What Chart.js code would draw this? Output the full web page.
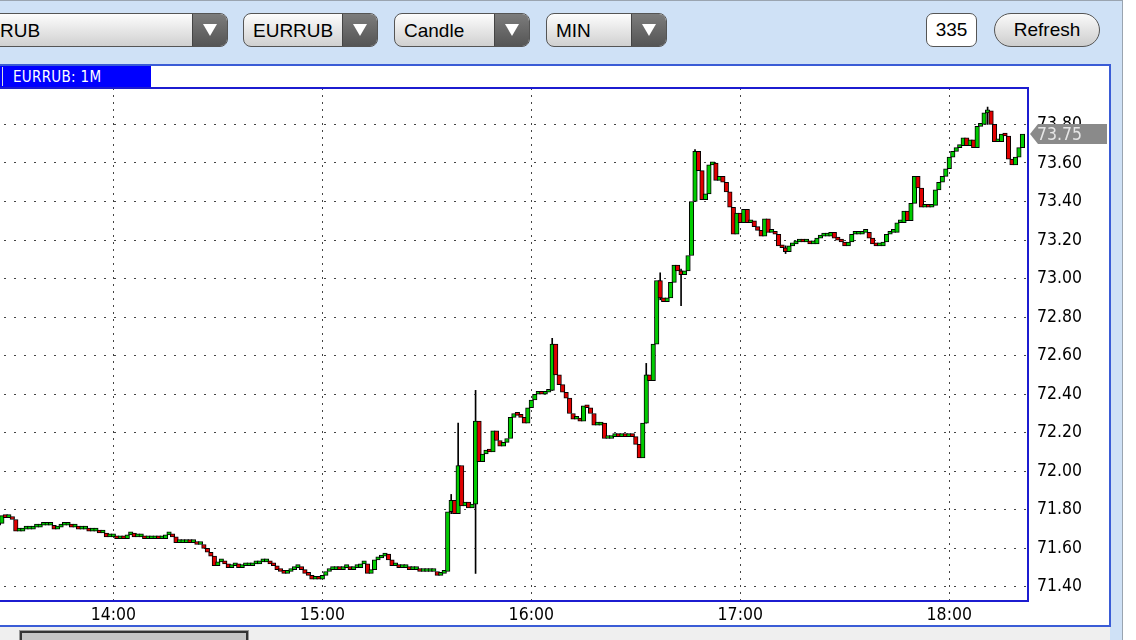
<!DOCTYPE html>
<html>
<head>
<meta charset="utf-8">
<script src="https://cdn.jsdelivr.net/npm/chart.js@4.4.0/dist/chart.umd.min.js"></script>
<style>
  html, body { margin: 0; padding: 0; }
  body {
    width: 1136px; height: 640px; overflow: hidden; position: relative;
    background: #cfe1f6; font-family: 'Liberation Sans', Arial, sans-serif;
  }
  .linea-sup { position: absolute; left: 0; top: 0; width: 1136px; height: 1px; background: #9aa4b0; }
  .sel {
    position: absolute; top: 13px; height: 34px; box-sizing: border-box;
    border: 1.5px solid #555; border-radius: 8px; overflow: hidden;
    background: linear-gradient(#fdfdfd, #d0d0d0);
  }
  .sel span { position: absolute; top: 6px; font-size: 19px; color: #000; }
  .sel .flecha {
    position: absolute; right: 0; top: 0; bottom: 0; width: 34px;
    background: linear-gradient(#7c7c7c, #555); border-left: 1px solid #444;
  }
  .sel .flecha:after {
    content: ''; position: absolute; left: 10px; top: 10px;
    border-left: 7px solid transparent; border-right: 7px solid transparent; border-top: 12px solid #fff;
  }
  .caja {
    position: absolute; top: 13px; height: 34px; box-sizing: border-box; border: 1.5px solid #555;
    font-size: 19px; text-align: center; line-height: 31px; color: #000;
  }
  .panel {
    position: absolute; left: -10px; top: 64px; width: 1121px; height: 563px; box-sizing: border-box;
    background: #fff; border: 2px solid #3a5cd6;
  }
  .banda {
    position: absolute; left: 0; top: 66px; width: 151px; height: 21px; background: #0000ff; color: #fff;
    font-family: 'DejaVu Sans Condensed', sans-serif; font-size: 15px;
    line-height: 22px; letter-spacing: 0.3px;
  }
  .banda i { position: absolute; left: 2px; top: 1px; width: 1px; height: 19px; background: #ddd; }
  .banda span { position: absolute; left: 13px; }
  #grafico { position: absolute; left: -26px; top: 65px; }
  .scroll { position: absolute; left: 0; top: 627px; width: 1110px; height: 13px; background: #efefef; }
  .pulgar {
    position: absolute; left: 20px; top: 631px; width: 228px; height: 14px; box-sizing: border-box;
    background: #c4c4c4; border: 2px solid #333; box-shadow: 0 0 0 1px #999;
  }
  .franja { position: absolute; left: 1122px; top: 0; width: 14px; height: 640px; background: #fff; border-left: 1px solid #9aa4b0; }
</style>
</head>
<body>
<div class="linea-sup"></div>
<div class="sel" style="left:-40px; width:268px;"><span style="left:39px;">RUB</span><div class="flecha"></div></div>
<div class="sel" style="left:243px; width:135px;"><span style="left:9px;">EURRUB</span><div class="flecha"></div></div>
<div class="sel" style="left:394px; width:136px;"><span style="left:9px;">Candle</span><div class="flecha"></div></div>
<div class="sel" style="left:546px; width:121px;"><span style="left:9px;">MIN</span><div class="flecha"></div></div>
<div class="caja" style="left:926px; width:51px; border-radius:7px; background:#fff;">335</div>
<div class="caja" style="left:994px; width:106px; border-radius:17px; background:linear-gradient(#fafafa,#cdcdcd);">Refresh</div>
<div class="franja"></div>

<div class="panel"></div>
<div class="banda"><i></i><span>EURRUB: 1M</span></div>
<canvas id="grafico" width="1136" height="561"></canvas>
<div class="scroll"></div>
<div class="pulgar"></div>

<script>
// Marcas de los ejes
const marcasHora = ['14:00', '15:00', '16:00', '17:00', '18:00'];
const marcasPrecio = [71.40, 71.60, 71.80, 72.00, 72.20, 72.40, 72.60, 72.80, 73.00, 73.20, 73.40, 73.60, 73.80];

// Velas de 1 minuto: la primera visible es 13:27, la apertura de cada vela es el cierre anterior
const primeraVela = '13:27';
const aperturaInicial = 71.72;

// cierres 13:27 - 13:59
const cierres13 = [71.73, 71.77, 71.76, 71.76, 71.75, 71.69, 71.69, 71.70, 71.70, 71.70,
  71.71, 71.71, 71.72, 71.72, 71.72, 71.72, 71.70, 71.71, 71.72, 71.72,
  71.72, 71.71, 71.71, 71.70, 71.70, 71.70, 71.69, 71.69, 71.69, 71.68,
  71.68, 71.66, 71.66];
// cierres 14:00 - 14:59
const cierres14 = [71.66, 71.65, 71.66, 71.65, 71.67, 71.68, 71.66, 71.66, 71.66, 71.65,
  71.65, 71.65, 71.66, 71.65, 71.65, 71.67, 71.67, 71.66, 71.63, 71.63,
  71.63, 71.64, 71.63, 71.63, 71.62, 71.62, 71.60, 71.58, 71.56, 71.51,
  71.53, 71.53, 71.52, 71.50, 71.51, 71.52, 71.50, 71.51, 71.51, 71.51,
  71.52, 71.52, 71.53, 71.53, 71.53, 71.52, 71.51, 71.49, 71.48, 71.47,
  71.48, 71.49, 71.50, 71.50, 71.49, 71.47, 71.46, 71.44, 71.45, 71.44];
// cierres 15:00 - 15:59
const cierres15 = [71.46, 71.48, 71.49, 71.49, 71.50, 71.49, 71.50, 71.50, 71.49, 71.50,
  71.50, 71.52, 71.52, 71.47, 71.49, 71.54, 71.55, 71.56, 71.57, 71.54,
  71.51, 71.51, 71.50, 71.50, 71.50, 71.49, 71.49, 71.49, 71.48, 71.48,
  71.48, 71.48, 71.48, 71.46, 71.47, 71.48, 71.79, 71.85, 71.78, 72.03,
  71.82, 71.84, 71.81, 71.83, 72.26, 72.05, 72.09, 72.11, 72.10, 72.21,
  72.16, 72.13, 72.15, 72.17, 72.28, 72.30, 72.29, 72.28, 72.25, 72.33];
// cierres 16:00 - 16:59
const cierres16 = [72.37, 72.40, 72.41, 72.40, 72.41, 72.42, 72.66, 72.50, 72.45, 72.41,
  72.38, 72.30, 72.27, 72.27, 72.26, 72.34, 72.33, 72.30, 72.24, 72.24,
  72.25, 72.17, 72.17, 72.18, 72.19, 72.18, 72.19, 72.18, 72.19, 72.18,
  72.14, 72.07, 72.25, 72.50, 72.47, 72.66, 72.99, 72.90, 72.88, 72.90,
  72.98, 73.07, 73.04, 73.02, 73.04, 73.12, 73.40, 73.66, 73.56, 73.41,
  73.44, 73.59, 73.60, 73.51, 73.53, 73.50, 73.45, 73.37, 73.23, 73.34];
// cierres 17:00 - 17:59
const cierres17 = [73.29, 73.36, 73.29, 73.30, 73.27, 73.25, 73.22, 73.31, 73.24, 73.24,
  73.23, 73.17, 73.16, 73.14, 73.17, 73.18, 73.19, 73.20, 73.19, 73.19,
  73.18, 73.18, 73.21, 73.22, 73.22, 73.22, 73.24, 73.21, 73.20, 73.19,
  73.17, 73.19, 73.23, 73.23, 73.23, 73.24, 73.24, 73.21, 73.18, 73.17,
  73.17, 73.19, 73.23, 73.24, 73.24, 73.29, 73.29, 73.35, 73.30, 73.39,
  73.53, 73.47, 73.37, 73.38, 73.37, 73.38, 73.46, 73.50, 73.53, 73.57];
// cierres 18:00 - 18:21
const cierres18 = [73.63, 73.66, 73.68, 73.69, 73.73, 73.69, 73.72, 73.68, 73.79, 73.80,
  73.86, 73.87, 73.80, 73.71, 73.71, 73.75, 73.74, 73.62, 73.59, 73.63,
  73.68, 73.75];

// mechas largas que se ven en la imagen
const mechasHora = ['15:37', '15:39', '15:44', '16:06', '16:33', '16:37', '16:43', '16:47', '17:13', '18:11'];
const mechasMin = [71.78, 71.78, 71.47, 72.42, 72.26, 72.89, 72.86, 73.40, 73.13, 73.80];
const mechasMax = [71.88, 72.25, 72.42, 72.69, 72.56, 73.03, 73.05, 73.67, 73.17, 73.89];

function aMinutos(hora) {
  const [h, m] = hora.split(':');
  return parseInt(h) * 60 + parseInt(m);
}

function formatoHora(minutos) {
  const h = Math.floor(minutos / 60);
  const m = minutos % 60;
  return h + ':' + (m < 10 ? '0' : '') + m;
}

// armamos las velas
const cierres = [].concat(cierres13, cierres14, cierres15, cierres16, cierres17, cierres18);
const velas = [];
let apertura = aperturaInicial;
cierres.forEach((cierre, i) => {
  velas.push({ x: aMinutos(primeraVela) + i, o: apertura, c: cierre });
  apertura = cierre;
});

const mechas = mechasHora.map((hora, k) => {
  const vela = velas.find((v) => v.x === aMinutos(hora));
  const bajo = Math.min(mechasMin[k], vela.o, vela.c);
  const alto = Math.max(mechasMax[k], vela.o, vela.c);
  return { x: vela.x, y: [bajo, alto] };
});

const ultimoPrecio = cierres[cierres.length - 1];
const fuente = "'DejaVu Sans Condensed', sans-serif";

// marco azul del area y banderita con el ultimo precio
const marcoYPrecio = {
  id: 'marcoYPrecio',
  afterDraw(chart) {
    const { ctx, chartArea: a } = chart;
    ctx.save();
    ctx.strokeStyle = '#1c1cd0';
    ctx.lineWidth = 2;
    ctx.strokeRect(a.left, a.top, a.right - a.left, a.bottom - a.top);

    const y = chart.scales.y.getPixelForValue(ultimoPrecio);
    const x0 = a.right + 2;
    ctx.fillStyle = '#8a8a8a';
    ctx.beginPath();
    ctx.moveTo(x0, y);
    ctx.lineTo(x0 + 8, y - 10);
    ctx.lineTo(x0 + 77, y - 10);
    ctx.lineTo(x0 + 77, y + 10);
    ctx.lineTo(x0 + 8, y + 10);
    ctx.closePath();
    ctx.fill();
    ctx.fillStyle = '#e6e6e6';
    ctx.font = '17.5px ' + fuente;
    ctx.textBaseline = 'middle';
    ctx.fillText(ultimoPrecio.toFixed(2), x0 + 7, y + 1);
    ctx.restore();
  },
};

const grafica = new Chart(document.getElementById('grafico'), {
  type: 'bar',
  data: {
    datasets: [
      {
        label: 'Cuerpo',
        data: velas.map((v) => ({ x: v.x, y: [v.o, v.c] })),
        backgroundColor: velas.map((v) => (v.c >= v.o ? '#00cc00' : '#e00000')),
        borderColor: '#000',
        borderWidth: 1,
        borderSkipped: false,
        barThickness: 4.5,
        minBarLength: 3,
        grouped: false,
      },
      {
        label: 'Mecha',
        data: mechas,
        backgroundColor: '#000',
        barThickness: 1,
        grouped: false,
      },
    ],
  },
  options: {
    responsive: false,
    animation: false,
    layout: { autoPadding: false, padding: { top: 23, left: 0, right: 0, bottom: 0 } },
    plugins: { legend: { display: false }, tooltip: { enabled: false } },
    scales: {
      x: {
        type: 'linear',
        min: aMinutos('13:20'),
        max: 1102.6,
        offset: false,
        afterBuildTicks: (s) => { s.ticks = marcasHora.map((h) => ({ value: aMinutos(h) })); },
        afterFit: (s) => { s.height = 25; },
        ticks: { callback: (v) => formatoHora(v), color: '#000', font: { family: fuente, size: 17.5 }, padding: 4, maxRotation: 0, autoSkip: false },
        grid: { color: '#444', drawTicks: false, offset: false },
        border: { display: false, dash: [2, 5] },
      },
      y: {
        position: 'right',
        min: 71.327,
        max: 73.989,
        afterBuildTicks: (s) => { s.ticks = marcasPrecio.map((p) => ({ value: p })); },
        afterFit: (s) => { s.width = 82; },
        ticks: { callback: (v) => v.toFixed(2), color: '#000', font: { family: fuente, size: 17.5 }, padding: 9 },
        grid: { color: '#444', drawTicks: false },
        border: { display: false, dash: [2, 8] },
      },
    },
  },
  plugins: [marcoYPrecio],
});
</script>
</body>
</html>
